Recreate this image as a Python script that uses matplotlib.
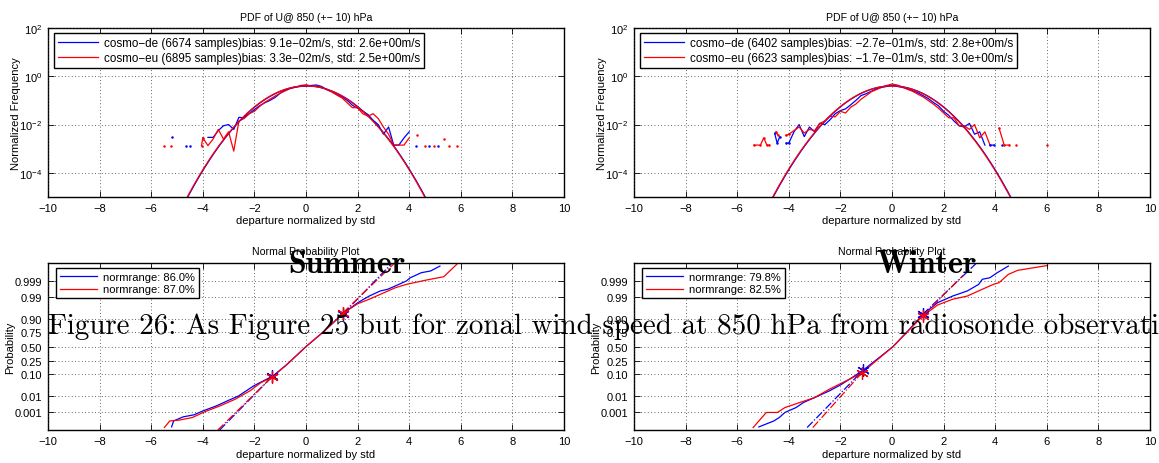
import numpy as np
import matplotlib
matplotlib.use("Agg")
import matplotlib.pyplot as plt
from statistics import NormalDist

plt.rcParams['font.family'] = ['Liberation Sans', 'DejaVu Sans']
plt.rcParams['mathtext.fontset'] = 'custom'
plt.rcParams['mathtext.rm'] = 'Liberation Sans'
plt.rcParams['mathtext.default'] = 'regular'

# ---------------- data ----------------
hist_x = np.round(np.arange(-40, 41, 2) / 10.0, 1)   # bin centres (std units)

# log10 of normalized frequency, summer
summer_de_log = [np.nan, -2.53, -2.53, -2.25, -2.05, -2.0, -2.2, -1.7, -1.72, -1.55, -1.38,
                 -1.22, -1.1, -1.0, -0.88, -0.7, -0.58, -0.5, -0.45, -0.42, -0.41,
                 -0.38, -0.36, -0.42, -0.55, -0.64, -0.76, -0.86, -1.0, -1.2, -1.32,
                 -1.45, -1.58, -1.82, -2.0, -2.4, -2.1, -2.85, -2.85, -2.55, -2.3]
summer_eu_log = [-2.55, -2.87, -2.6, -2.2, -2.6, -2.3, -3.1, -1.85, -1.75, -1.55, -1.45,
                 -1.25, -1.08, -0.95, -0.82, -0.7, -0.6, -0.5, -0.45, -0.38, -0.35,
                 -0.4, -0.4, -0.45, -0.55, -0.65, -0.78, -0.9, -1.1, -1.3, -1.3,
                 -1.55, -1.65, -1.55, -1.75, -2.1, -2.4, -2.85, -2.85, -2.85, -2.55]
summer_de_tail_x = [-5.2, np.nan, -4.66, np.nan, -4.48, np.nan, 4.25, np.nan, 4.76, np.nan, 5.12]
summer_de_tail_y = [-2.53, np.nan, -2.87, np.nan, -2.87, np.nan, -2.87, np.nan, -2.87, np.nan, -2.87]
summer_eu_tail_x = [-5.49, np.nan, -5.23, np.nan, -4.05, -4.0, np.nan, 4.32, np.nan, 4.61, np.nan, 4.97, np.nan, 5.34, np.nan, 5.55, np.nan, 5.84]
summer_eu_tail_y = [-2.87, np.nan, -2.87, np.nan, -2.87, -2.55, np.nan, -2.42, np.nan, -2.87, np.nan, -2.87, np.nan, -2.6, np.nan, -2.87, np.nan, -2.87]

# winter
winter_de_log = [-2.77, -2.3, -2.0, -2.5, -2.1, -2.3, -1.95, -2.0, -1.8, -1.55, -1.42,
                 -1.35, -1.18, -1.0, -0.8, -0.72, -0.62, -0.52, -0.46, -0.42, -0.37,
                 -0.42, -0.46, -0.52, -0.6, -0.68, -0.8, -0.92, -1.08, -1.22, -1.45,
                 -1.62, -1.85, -2.05, -2.1, -1.95, -2.4, -2.3, -2.85, np.nan, np.nan]
winter_eu_log = [-2.4, -2.25, -2.1, -2.35, -2.2, -2.25, -1.95, -1.85, -1.65, -1.68, -1.45,
                 -1.52, -1.28, -1.15, -0.95, -0.8, -0.64, -0.55, -0.45, -0.38, -0.32,
                 -0.36, -0.44, -0.54, -0.62, -0.74, -0.85, -1.0, -1.15, -1.32, -1.52,
                 -1.72, -1.72, -2.05, -2.05, -2.2, -2.0, -2.55, -2.3, -2.85, np.nan]
winter_de_tail_x = [-4.55, -4.45, -4.35, np.nan, -4.1, -4.0, np.nan, 3.8, 3.95, np.nan, 4.25]
winter_de_tail_y = [-2.36, -2.77, -2.5, np.nan, -2.77, -2.77, np.nan, -2.85, -2.85, np.nan, -2.85]
winter_eu_tail_x = [-5.35, -5.1, -4.97, -4.85, -4.75, np.nan, -4.5, -4.4, np.nan, -4.12, -4.0,
                    np.nan, 4.15, 4.35, 4.55, np.nan, 4.8, np.nan, 6.0]
winter_eu_tail_y = [-2.85, -2.85, -2.55, -2.85, -2.85, np.nan, -2.3, -2.45, np.nan, -2.45, -2.4,
                    np.nan, -2.15, -2.85, -2.85, np.nan, -2.85, np.nan, -2.85]

# gaussian fits (mean, std in normalized units)
fit_mu = {"summer": (0.02, 0.0), "winter": (0.0, -0.02)}
fit_sd = {"summer": (1.0, 1.0), "winter": (1.0, 1.0)}

legend_pdf = {
    "summer": ["cosmo\u2212de (6674 samples)bias: 9.1e\u221202m/s, std: 2.6e+00m/s",
               "cosmo\u2212eu (6895 samples)bias: 3.3e\u221202m/s, std: 2.5e+00m/s"],
    "winter": ["cosmo\u2212de (6402 samples)bias: \u22122.7e\u221201m/s, std: 2.8e+00m/s",
               "cosmo\u2212eu (6623 samples)bias: \u22121.7e\u221201m/s, std: 3.0e+00m/s"],
}
legend_np = {"summer": ["normrange: 86.0%", "normrange: 87.0%"],
             "winter": ["normrange: 79.8%", "normrange: 82.5%"]}

# normal probability plot: sorted departures (x) vs normal quantile (z)
np_summer_de_x = [-5.21, -5.13, -4.77, -4.34, -3.98, -3.47, -3.04, -2.61, -2.03, -1.6, -1.31,
                  -0.73, 0.0, 0.72, 1.44, 2.01, 2.45, 2.88, 3.17, 3.6, 3.89, 4.04, 4.47, 4.83, 5.19]
np_summer_de_z = [-3.78, -3.5, -3.31, -3.21, -3.02, -2.79, -2.55, -2.32, -1.85, -1.58, -1.41,
                  -0.83, 0.0, 0.74, 1.56, 2.07, 2.38, 2.62, 2.7, 2.93, 3.09, 3.24, 3.48, 3.56, 3.79]
np_summer_eu_x = [-5.49, -5.28, -4.92, -4.41, -3.91, -3.33, -2.75, -2.17, -1.74, -1.31,
                  -0.73, 0.0, 0.72, 1.44, 2.01, 2.45, 3.03, 3.46, 3.89, 4.61, 5.34, 5.84]
np_summer_eu_z = [-3.81, -3.5, -3.46, -3.34, -3.06, -2.79, -2.48, -2.08, -1.69, -1.44,
                  -0.83, 0.0, 0.74, 1.58, 2.02, 2.23, 2.54, 2.77, 2.93, 3.12, 3.29, 3.87]
np_winter_de_x = [-5.16, -4.58, -4.37, -4.15, -3.72, -3.43, -3.0, -2.42, -1.99, -1.55, -1.12,
                  -0.5, 0.04, 0.6, 1.19, 1.77, 2.35, 2.92, 3.36, 3.5, 3.79, 4.08, 4.51]
np_winter_de_z = [-3.78, -3.5, -3.34, -3.1, -2.87, -2.63, -2.4, -2.08, -1.8, -1.46, -1.11,
                  -0.52, 0.0, 0.72, 1.5, 2.07, 2.38, 2.62, 2.93, 3.17, 3.24, 3.48, 3.79]
np_winter_eu_x = [-5.38, -5.16, -4.87, -4.44, -4.15, -3.57, -3.0, -2.42, -1.84, -1.17,
                  -0.5, 0.04, 0.6, 1.2, 1.77, 2.35, 2.92, 3.5, 3.93, 4.15, 4.51, 4.87, 6.03]
np_winter_eu_z = [-3.81, -3.5, -3.1, -3.1, -2.87, -2.63, -2.4, -2.0, -1.65, -1.24,
                  -0.55, 0.0, 0.7, 1.45, 1.96, 2.23, 2.38, 2.7, 2.93, 3.01, 3.4, 3.59, 3.82]
# reference-line end points and marked points (x, z)
np_stars = {"summer": (((-1.3, -1.4), (1.45, 1.55)), ((-1.33, -1.44), (1.42, 1.58))),
            "winter": (((-1.12, -1.11), (1.19, 1.52)), ((-1.17, -1.24), (1.2, 1.45)))}
np_ref_ends = {"summer": (((-3.35, -3.93), (3.35, 3.95)), ((-3.42, -3.93), (3.45, 3.95))),
               "winter": (((-3.29, -3.81), (3.29, 3.95)), ((-3.07, -3.81), (2.75, 3.35)))}
prob_ticks = [0.001, 0.01, 0.10, 0.25, 0.50, 0.75, 0.90, 0.99, 0.999]
prob_labels = ["0.001", "0.01", "0.10", "0.25", "0.50", "0.75", "0.90", "0.99", "0.999"]

colors = ("#0000ff", "#ff0000")

# ---------------- figure ----------------
W, H = 1159, 464
fig = plt.figure(figsize=(W / 100, H / 100), dpi=100)

def px_axes(l, t, r, b):
    return fig.add_axes([l / W, 1 - b / H, (r - l) / W, (b - t) / H])

FS = 8
grid_kw = dict(color='0.2', lw=0.6, linestyle=(0, (1, 3)))

def style(ax):
    ax.set_xlim(-10, 10)
    ax.set_xticks(range(-10, 11, 2))
    ax.set_xticklabels([("\u2212%d" % -v) if v < 0 else str(v) for v in range(-10, 11, 2)])
    ax.tick_params(direction='in', top=True, right=True, labelsize=FS, length=4, width=0.6, pad=4)
    for sp in ax.spines.values():
        sp.set_linewidth(1.0)
    ax.grid(True, **grid_kw)
    ax.set_axisbelow(False)
    ax.set_xlabel("departure normalized by std", fontsize=FS, labelpad=2)

def add_legend(ax, handles, labels, anchor, fs):
    lg = ax.legend(handles, labels, loc='upper left', bbox_to_anchor=anchor, borderaxespad=0,
                   fontsize=fs, handlelength=3.4, handletextpad=0.5, labelspacing=0.25,
                   borderpad=0.35, fancybox=False, framealpha=1, edgecolor='k')
    lg.get_frame().set_linewidth(1.0)

xs = np.linspace(-10, 10, 2001)
seasons = ["summer", "winter"]
lefts = [48, 634]
rights = [564, 1150]
hists = {"summer": (summer_de_log, summer_eu_log), "winter": (winter_de_log, winter_eu_log)}
tails = {"summer": ((summer_de_tail_x, summer_de_tail_y), (summer_eu_tail_x, summer_eu_tail_y)),
         "winter": ((winter_de_tail_x, winter_de_tail_y), (winter_eu_tail_x, winter_eu_tail_y))}
npdata = {"summer": ((np_summer_de_x, np_summer_de_z), (np_summer_eu_x, np_summer_eu_z)),
          "winter": ((np_winter_de_x, np_winter_de_z), (np_winter_eu_x, np_winter_eu_z))}

for i, s in enumerate(seasons):
    # ---- PDF panel ----
    ax = px_axes(lefts[i], 29, rights[i], 198)
    hl = []
    for k in range(2):
        ln, = ax.plot(hist_x, 10.0 ** np.asarray(hists[s][k]), color=colors[k], lw=0.9)
        hl.append(ln)
    for k in range(2):
        mu, sd = fit_mu[s][k], fit_sd[s][k]
        ax.plot(xs, np.exp(-0.5 * ((xs - mu) / sd) ** 2) / (sd * np.sqrt(2 * np.pi)),
                color=colors[k], lw=0.9)
    for k in range(2):
        tx, ty = tails[s][k]
        ax.plot(tx, 10.0 ** np.asarray(ty), color=colors[k], lw=0.9, marker='.', ms=1.6)
    ax.set_yscale('log')
    ax.set_ylim(1e-5, 1e2)
    ax.set_yticks([1e-4, 1e-2, 1e0, 1e2])
    ax.set_yticklabels([r"$10^{-4}$", r"$10^{-2}$", r"$10^{0}$", r"$10^{2}$"])
    ax.yaxis.set_minor_locator(matplotlib.ticker.NullLocator())
    style(ax)
    ax.set_ylabel("Normalized Frequency", fontsize=FS, labelpad=-1)
    ax.set_title("PDF of U@ 850 (+\u2212 10) hPa", fontsize=7.6, pad=6)
    add_legend(ax, hl, legend_pdf[s], (0.012, 0.97), 8.4)

    # ---- normal probability panel ----
    ax2 = px_axes(lefts[i], 263.7, rights[i], 431.3)
    lines = []
    for k in range(2):
        x, z = npdata[s][k]
        ln, = ax2.plot(x, z, color=colors[k], lw=0.9)
        lines.append(ln)
    for k in range(2):
        (lo, hi) = np_stars[s][k]
        (b0, t0) = np_ref_ends[s][k]
        ax2.plot([b0[0], lo[0]], [b0[1], lo[1]], color=colors[k], lw=0.9, linestyle='-.')
        ax2.plot([hi[0], t0[0]], [hi[1], t0[1]], color=colors[k], lw=0.9, linestyle='-.')
        ax2.plot([lo[0], hi[0]], [lo[1], hi[1]], color=colors[k], lw=0, marker=(6, 2, 0), ms=9, mew=0.9)
    nd = NormalDist()
    ax2.set_ylim(-3.94, 3.95)
    ax2.set_yticks([nd.inv_cdf(p) for p in prob_ticks])
    ax2.set_yticklabels(prob_labels)
    style(ax2)
    ax2.set_ylabel("Probability", fontsize=FS, labelpad=0)
    ax2.set_title("Normal Probability Plot", fontsize=7.6, pad=6)
    add_legend(ax2, lines, legend_np[s], (0.015, 0.97), 8.0)

# overlaid document text
fig.text(288 / W, 1 - 273 / H, "Summer", fontfamily='cmb10', fontsize=23, va='baseline', zorder=20)
fig.text(876 / W, 1 - 273 / H, "Winter", fontfamily='cmb10', fontsize=23, va='baseline', zorder=20)
fig.text(48 / W, 1 - 334 / H,
         "Figure 26: As Figure 25 but for zonal wind speed at 850 hPa from radiosonde observations.",
         fontfamily='cmr10', fontsize=20.9, va='baseline', zorder=20)

fig.savefig("out.png", dpi=100)
